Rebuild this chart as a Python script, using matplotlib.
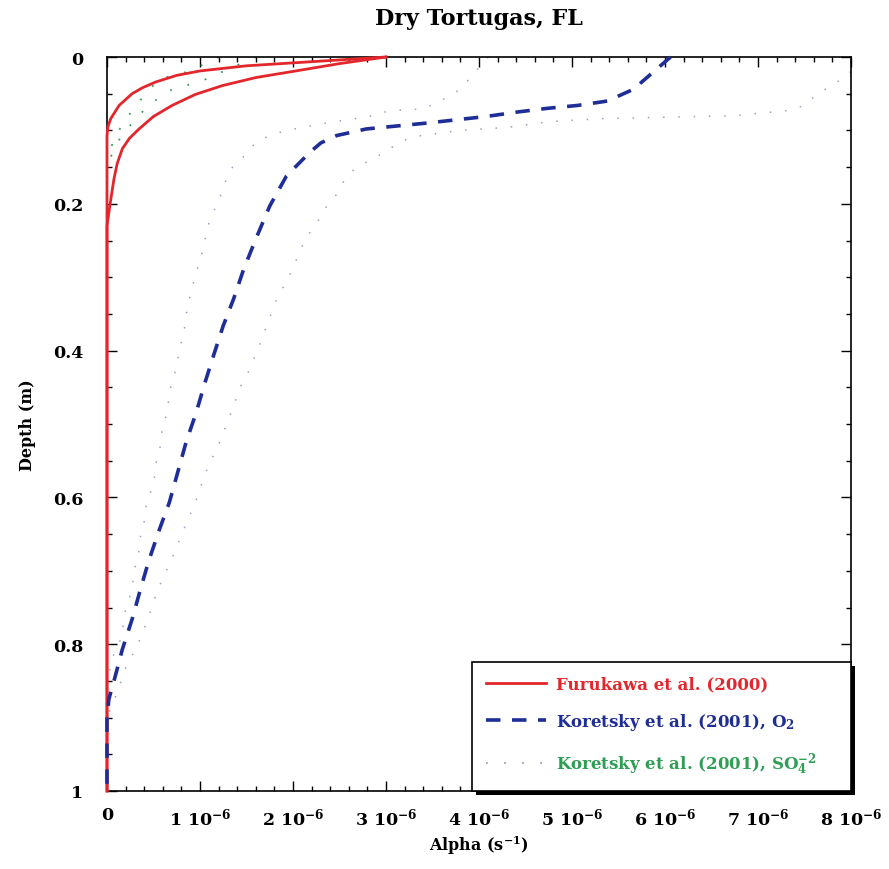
import matplotlib
matplotlib.use("Agg")
import matplotlib.pyplot as plt
import matplotlib.patheffects as pe
from matplotlib.lines import Line2D
from matplotlib.ticker import MultipleLocator, FixedLocator
import numpy as np

# values (alpha in units of 1e-6 s^-1, depth in m)
fur_a_x = [3.0, 2.0, 1.5, 1.0, 0.75, 0.525, 0.38, 0.27, 0.13, 0.04, 0.01, 0.0, 0.0]
fur_a_d = [0.0, 0.008, 0.012, 0.019, 0.025, 0.034, 0.042, 0.050, 0.066, 0.084, 0.095, 0.107, 1.0]

fur_b_x = [3.0, 2.5, 2.03, 1.6, 1.24, 0.95, 0.70, 0.5, 0.345, 0.24, 0.165, 0.11, 0.075,
           0.03, 0.0, 0.0]
fur_b_d = [0.0, 0.009, 0.019, 0.028, 0.039, 0.051, 0.066, 0.081, 0.098, 0.111, 0.125, 0.145,
           0.166, 0.203, 0.23, 1.0]

o2_x = [6.06, 5.66, 5.38, 5.06, 4.73, 4.41, 4.08, 3.44, 2.79, 2.47, 2.3, 2.18, 1.93,
        1.75, 1.60, 1.47, 1.36, 1.25, 1.15, 1.05, 0.96, 0.85, 0.76, 0.67, 0.56,
        0.45, 0.36, 0.27, 0.165, 0.09, 0.02, 0.0, 0.0]
o2_d = [0.0, 0.044, 0.060, 0.066, 0.070, 0.075, 0.081, 0.090, 0.098, 0.107, 0.117, 0.130, 0.162,
        0.203, 0.248, 0.289, 0.330, 0.366, 0.405, 0.445, 0.484, 0.525, 0.566, 0.607, 0.645,
        0.686, 0.725, 0.766, 0.807, 0.843, 0.875, 0.90, 1.0]

o2_hi_x = [8.0, 7.82, 7.64, 7.5, 7.32, 6.74, 5.31, 4.77, 4.3, 3.8, 3.33, 3.18, 2.86, 2.68,
           2.56, 2.47, 2.34, 2.25, 2.14, 2.07, 2.0, 1.93, 1.84, 1.77, 1.66, 1.53, 1.44,
           1.33, 1.21, 1.06, 0.95, 0.81, 0.69, 0.54, 0.44, 0.31, 0.22, 0.11, 0.0, 0.0]
o2_hi_d = [0.02, 0.037, 0.05, 0.066, 0.073, 0.08, 0.084, 0.088, 0.096, 0.100, 0.108, 0.114,
           0.139, 0.15, 0.166, 0.187, 0.207, 0.228, 0.246, 0.266, 0.287, 0.307, 0.325, 0.348,
           0.386, 0.427, 0.448, 0.486, 0.525, 0.566, 0.607, 0.648, 0.686, 0.727, 0.766,
           0.807, 0.825, 0.866, 0.90, 1.0]

o2_lo_x = [4.1, 3.94, 3.8, 3.53, 3.37, 3.04, 2.86, 2.57, 2.39, 2.1, 1.93, 1.75, 1.6, 1.5,
           1.35, 1.26, 1.21, 1.14, 1.08, 1.05, 1.01, 0.96, 0.92, 0.88, 0.85, 0.83, 0.79,
           0.76, 0.73, 0.68, 0.66, 0.63, 0.59, 0.57, 0.53, 0.51, 0.47, 0.42, 0.40, 0.36,
           0.35, 0.31, 0.26, 0.2, 0.15, 0.08, 0.0, 0.0]
o2_lo_d = [0.0, 0.023, 0.044, 0.064, 0.071, 0.073, 0.080, 0.086, 0.089, 0.096, 0.100, 0.107,
           0.116, 0.132, 0.150, 0.173, 0.193, 0.212, 0.232, 0.252, 0.273, 0.293, 0.312,
           0.333, 0.352, 0.373, 0.393, 0.413, 0.430, 0.452, 0.471, 0.492, 0.511, 0.532,
           0.552, 0.573, 0.592, 0.612, 0.633, 0.652, 0.670, 0.690, 0.729, 0.752, 0.793,
           0.81, 0.85, 1.0]

so4_a_x = [1.2, 0.87, 0.56, 0.35, 0.2, 0.08, 0.0]
so4_a_d = [0.0, 0.02, 0.03, 0.06, 0.085, 0.11, 0.14]
so4_b_x = [1.6, 1.03, 0.69, 0.45, 0.27, 0.15, 0.075, 0.0]
so4_b_d = [0.0, 0.032, 0.045, 0.065, 0.09, 0.109, 0.125, 0.15]

xtick_vals = [0, 1, 2, 3, 4, 5, 6, 7, 8]
xtick_labels = ["0"] + ["%d 10$^{-6}$" % v for v in xtick_vals[1:]]
ytick_vals = [0, 0.2, 0.4, 0.6, 0.8, 1.0]
ytick_labels = ["0", "0.2", "0.4", "0.6", "0.8", "1"]

labels = ["Furukawa et al. (2000)",
          "Koretsky et al. (2001), O$_2$",
          "Koretsky et al. (2001), SO$_4^{-2}$"]

RED = "#e3262b"
BLUE = "#1f2d96"
GREEN = "#2f9e55"
GRAY = "#9aa0bd"

plt.rcParams["font.family"] = "DejaVu Serif"
plt.rcParams["font.weight"] = "bold"
plt.rcParams["mathtext.fontset"] = "custom"
plt.rcParams["mathtext.rm"] = "DejaVu Serif:bold"
plt.rcParams["mathtext.it"] = "DejaVu Serif:bold:italic"
plt.rcParams["mathtext.bf"] = "DejaVu Serif:bold"

fig = plt.figure(figsize=(8.89, 8.70), dpi=100)
ax = fig.add_axes([107 / 889, 1 - 792 / 870, 744 / 889, 734 / 870])

s = 1e-6
dot = (0, (1, 9))

# dotted bounds
ax.plot(np.array(o2_hi_x) * s, o2_hi_d, color=GRAY, lw=1.1, ls=dot)
ax.plot(np.array(o2_lo_x) * s, o2_lo_d, color=GRAY, lw=1.1, ls=dot)
ax.plot(np.array(so4_a_x) * s, so4_a_d, color=GREEN, lw=1.3, ls=dot)
ax.plot(np.array(so4_b_x) * s, so4_b_d, color=GREEN, lw=1.3, ls=dot)

# Furukawa
ax.plot(np.array(fur_a_x) * s, fur_a_d, color=RED, lw=2.0, clip_on=False, zorder=3)
ax.plot(np.array(fur_b_x) * s, fur_b_d, color=RED, lw=2.0, clip_on=False, zorder=3)

# Koretsky O2
ax.plot(np.array(o2_x) * s, o2_d, color=BLUE, lw=2.6, dashes=(4, 3.2),
        clip_on=False, zorder=4)

ax.set_xlim(0, 8.0e-6)
ax.set_ylim(1.0, 0.0)

ax.xaxis.set_major_locator(FixedLocator([v * s for v in xtick_vals]))
ax.set_xticklabels(xtick_labels)
ax.xaxis.set_minor_locator(MultipleLocator(0.2e-6))
ax.set_yticks(ytick_vals)
ax.set_yticklabels(ytick_labels)
ax.yaxis.set_minor_locator(MultipleLocator(0.05))

ax.tick_params(which="both", direction="in", top=True, right=True, width=1.0)
ax.tick_params(which="major", length=7)
ax.tick_params(which="minor", length=3.5)
ax.tick_params(axis="x", which="major", pad=11, labelsize=12.5)
ax.tick_params(axis="y", which="major", pad=17, labelsize=12.5)
for sp in ax.spines.values():
    sp.set_linewidth(1.2)

ax.set_title("Dry Tortugas, FL", fontsize=16, fontweight="bold", pad=24)
ax.set_xlabel("Alpha (s$^{-1}$)", fontsize=11.5, fontweight="bold", labelpad=4)
ax.set_ylabel("Depth (m)", fontsize=11.5, fontweight="bold", labelpad=12)

handles = [Line2D([], [], color=RED, lw=2.0),
           Line2D([], [], color=BLUE, lw=2.6, dashes=(4, 3.2)),
           Line2D([], [], color=GRAY, lw=1.3, ls=dot)]
leg = ax.legend(handles, labels, loc="lower left",
                bbox_to_anchor=(0.49, 0.0, 0.51, 0.176), mode="expand",
                borderaxespad=0, fontsize=12, frameon=True, fancybox=False,
                handlelength=3.6, handletextpad=0.6, labelspacing=1.1,
                borderpad=0.85)
leg.get_frame().set_edgecolor("black")
leg.get_frame().set_linewidth(1.2)
leg.get_frame().set_alpha(1)
leg.get_frame().set_path_effects([
    pe.SimplePatchShadow(offset=(3, -3), shadow_rgbFace="black", alpha=1),
    pe.Normal()])
for t, c in zip(leg.get_texts(), [RED, BLUE, GREEN]):
    t.set_color(c)
leg.set_zorder(10)

fig.savefig("out.png", dpi=100)
